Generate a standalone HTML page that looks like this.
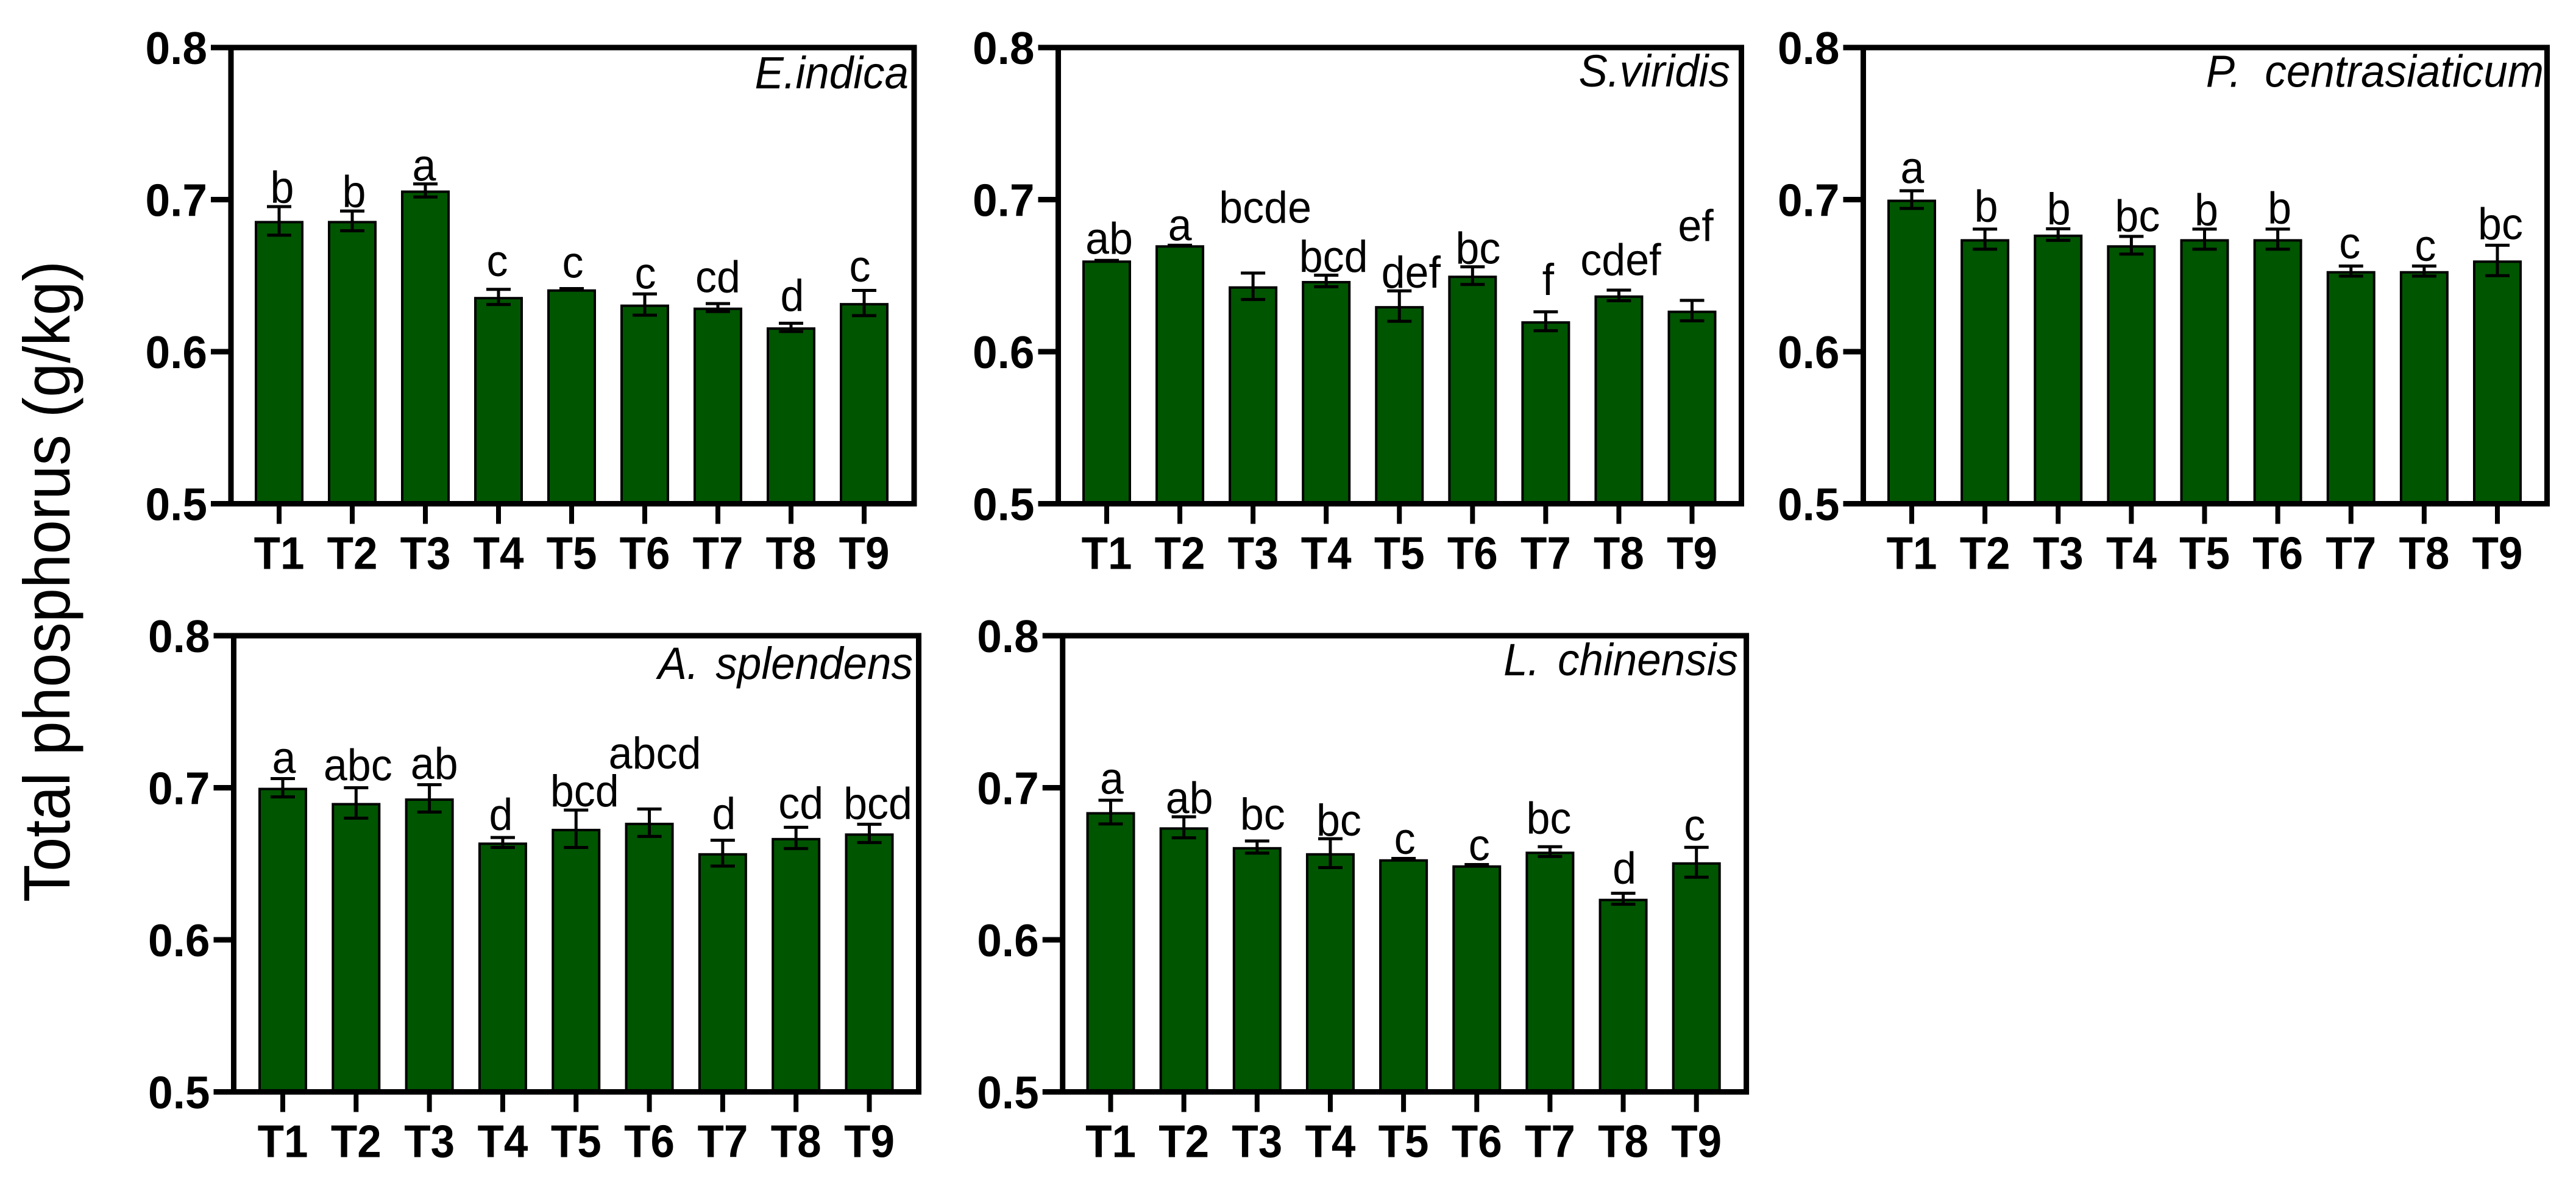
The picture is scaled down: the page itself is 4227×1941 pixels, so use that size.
<!DOCTYPE html>
<html lang="en">
<head>
<meta charset="utf-8">
<title>Total phosphorus by treatment</title>
<style>
html,body{margin:0;padding:0;background:#fff;width:4227px;height:1941px;overflow:hidden}
svg{display:block;font-family:"Liberation Sans",Arial,sans-serif}
</style>
</head>
<body>
<svg id="chart" xmlns="http://www.w3.org/2000/svg" width="4227" height="1941" viewBox="0 0 4227 1941">
<rect x="0" y="0" width="4227" height="1941" fill="#ffffff"/>
<text x="0" y="0" font-size="100.7" text-anchor="middle" transform="translate(114 954) rotate(-90) scale(1 1.07)" fill="#000">Total phosphorus (g/kg)</text>
</svg>
<script>
const categories = ['T1','T2','T3','T4','T5','T6','T7','T8','T9'];
const yTicks = [0.5,0.6,0.7,0.8];
const yTickLabels = ['0.5','0.6','0.7','0.8'];
const yMin = 0.5;
const yMax = 0.8;

const speciesNames = ['E.indica','S.viridis','P. centrasiaticum','A. splendens','L. chinensis'];

const meansIndica = [0.686,0.686,0.706,0.636,0.641,0.631,0.629,0.616,0.632];
const errorsIndica = [0.0094,0.0065,0.0043,0.005,0.0005,0.007,0.0026,0.0027,0.0083];
const lettersIndica = ['b','b','a','c','c','c','cd','d','c'];

const meansViridis = [0.66,0.67,0.643,0.6465,0.63,0.65,0.62,0.637,0.627];
const errorsViridis = [0,0,0.0087,0.0038,0.01,0.0058,0.0062,0.0035,0.0067];
const lettersViridis = ['ab','a','bcde','bcd','def','bc','f','cdef','ef'];

const meansCentrasiaticum = [0.7,0.674,0.677,0.67,0.674,0.674,0.653,0.653,0.66];
const errorsCentrasiaticum = [0.0058,0.0066,0.0038,0.0058,0.0066,0.0066,0.0033,0.0033,0.01];
const lettersCentrasiaticum = ['a','b','b','bc','b','b','c','c','bc'];

const meansSplendens = [0.7,0.69,0.693,0.664,0.673,0.677,0.657,0.667,0.67];
const errorsSplendens = [0.006,0.01,0.009,0.0033,0.0123,0.009,0.0085,0.007,0.006];
const lettersSplendens = ['a','abc','ab','d','bcd','abcd','d','cd','bcd'];

const meansChinensis = [0.684,0.674,0.661,0.657,0.653,0.649,0.658,0.627,0.651];
const errorsChinensis = [0.0078,0.0069,0.004,0.0095,0.0005,0.0005,0.0032,0.0036,0.0098];
const lettersChinensis = ['a','ab','bc','bc','c','c','bc','d','c'];

/* Hand-placed annotation nudges, relative to each bar */
const nudgeXIndica = [5,3,-2,-2,2,1,0,2,-7];
const liftIndica = [30,23,16,34,19,26,25,27,35];
const nudgeXViridis = [4,0,20,12,19,9,4,3,6];
const liftViridis = [11,8,104,15,30,20,43,33,114];
const nudgeXCentrasiaticum = [1,2,1,10,3,3,-2,2,5];
const liftCentrasiaticum = [27,29,17,23,23,26,21,17,35];
const nudgeXSplendens = [2,3,8,-3,14,9,2,8,14];
const liftSplendens = [24,37,32,21,37,89,40,32,24];
const nudgeXChinensis = [2,9,9,14,2,4,-2,2,-3];
const liftChinensis = [30,23,29,29,9,8,30,25,36];

const panels = [
  {slug:'e-indica', left:379, right:1500, top:78, bottom:826.5, first:458, last:1418, titleRight:1491, titleBase:145, titleGap:0, means:meansIndica, errors:errorsIndica, letters:lettersIndica, nudge:nudgeXIndica, lift:liftIndica},
  {slug:'s-viridis', left:1736.5, right:2857.5, top:78, bottom:826.5, first:1816, last:2776.5, titleRight:2839, titleBase:142, titleGap:0, means:meansViridis, errors:errorsViridis, letters:lettersViridis, nudge:nudgeXViridis, lift:liftViridis},
  {slug:'p-centrasiaticum', left:3057.5, right:4179.5, top:78, bottom:826.5, first:3137, last:4098, titleRight:4174, titleBase:142.5, titleGap:19, means:meansCentrasiaticum, errors:errorsCentrasiaticum, letters:lettersCentrasiaticum, nudge:nudgeXCentrasiaticum, lift:liftCentrasiaticum},
  {slug:'a-splendens', left:383.5, right:1507.5, top:1043, bottom:1791.5, first:464, last:1426.5, titleRight:1498, titleBase:1114, titleGap:8, means:meansSplendens, errors:errorsSplendens, letters:lettersSplendens, nudge:nudgeXSplendens, lift:liftSplendens},
  {slug:'l-chinensis', left:1743.7, right:2865.6, top:1043, bottom:1791.5, first:1822.5, last:2783.7, titleRight:2852, titleBase:1108, titleGap:10, means:meansChinensis, errors:errorsChinensis, letters:lettersChinensis, nudge:nudgeXChinensis, lift:liftChinensis}
];

const NS = 'http://www.w3.org/2000/svg';
const svg = document.getElementById('chart');

function make(parent, tag, attrs, text) {
  const el = document.createElementNS(NS, tag);
  Object.keys(attrs).forEach(k => el.setAttribute(k, attrs[k]));
  if (text !== undefined) el.textContent = text;
  parent.appendChild(el);
  return el;
}

function placed(x, y, sy) {
  return 'translate(' + x + ' ' + y + ') scale(1 ' + sy + ')';
}

panels.forEach((p, pi) => {
  const yScale = v => p.bottom - (v - yMin) / (yMax - yMin) * (p.bottom - p.top);
  const xScale = i => p.first + i * (p.last - p.first) / (categories.length - 1);

  const g = make(svg, 'g', {});
  
  

  categories.forEach((cat, i) => {
    const x = xScale(i);
    const yTop = yScale(p.means[i]);
    const barW = 76;

    const bar = make(g, 'rect', {x: x - barW / 2, y: yTop + 2, width: barW, height: p.bottom - yTop - 2, fill: '#005500', stroke: '#000', 'stroke-width': 4});
    
    

    const hi = yScale(p.means[i] + p.errors[i]);
    const lo = yScale(p.means[i] - p.errors[i]);
    const err = make(g, 'path', {d: 'M' + (x - 20) + ' ' + hi + 'H' + (x + 20) + 'M' + x + ' ' + hi + 'V' + lo + 'M' + (x - 20) + ' ' + lo + 'H' + (x + 20), fill: 'none', stroke: '#000', 'stroke-width': 5});
    
    

    const letter = make(g, 'text', {x: 0, y: 0, transform: placed(x + p.nudge[i], yTop - p.lift[i], 1.05), 'font-size': 70, 'text-anchor': 'middle', fill: '#000'}, p.letters[i]);
    
    

    const tick = make(g, 'line', {x1: x, x2: x, y1: p.bottom, y2: p.bottom + 33, stroke: '#000', 'stroke-width': 8});
    
    

    const label = make(g, 'text', {x: 0, y: 0, transform: placed(x, p.bottom + 107, 1.06), 'font-size': 71, 'font-weight': 700, 'text-anchor': 'middle', fill: '#000'}, cat);
    
    
  });

  yTicks.forEach((v, i) => {
    const y = yScale(v);
    const tick = make(g, 'line', {x1: p.left - 33, x2: p.left, y1: y, y2: y, stroke: '#000', 'stroke-width': 9});
    
    

    const label = make(g, 'text', {x: 0, y: 0, transform: placed(p.left - 39, y + 27, 1.03), 'font-size': 73, 'font-weight': 700, 'text-anchor': 'end', fill: '#000'}, yTickLabels[i]);
    
    
  });

  const frame = make(g, 'rect', {x: p.left, y: p.top, width: p.right - p.left, height: p.bottom - p.top, fill: 'none', stroke: '#000', 'stroke-width': 9});
  
  

  const title = make(g, 'text', {x: 0, y: 0, transform: placed(p.titleRight, p.titleBase, 1.05), 'font-size': 71, 'font-style': 'italic', 'text-anchor': 'end', 'word-spacing': p.titleGap, fill: '#000'}, speciesNames[pi]);
  
  
});
</script>
</body>
</html>
